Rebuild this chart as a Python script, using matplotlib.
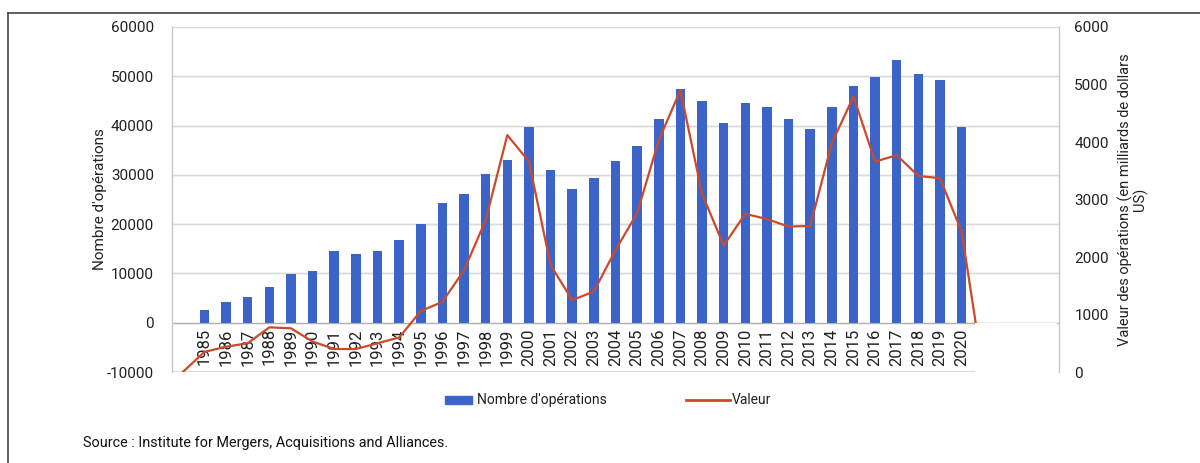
import matplotlib
matplotlib.use("Agg")
import matplotlib.pyplot as plt
from matplotlib.patches import Rectangle
from matplotlib.lines import Line2D

plt.rcParams['font.family'] = ['Roboto', 'DejaVu Sans']

# number of deals per year
years = list(range(1985, 2021))
operations = [2580, 4130, 5150, 7180, 9900, 10580, 14500, 13970, 14640, 16700,
              20070, 24270, 26030, 30240, 32950, 39730, 30910, 27050, 29350, 32800,
              35860, 41290, 47330, 45020, 40610, 44680, 43860, 41380, 39390, 43730,
              48000, 49890, 53220, 50500, 49280, 39730]

# deal value (bn USD), series padded with a zero at both ends
line_years = list(range(1984, 2022))
valeur = [0, 350, 440, 500, 777, 760, 530, 400, 400, 500, 600,
          1060, 1220, 1770, 2640, 4120, 3660, 1860, 1250, 1400, 2120,
          2760, 4030, 4900, 3100, 2200, 2750, 2660, 2530, 2540, 3980,
          4790, 3660, 3770, 3410, 3370, 2440, 0]

left_ticks = [-10000, 0, 10000, 20000, 30000, 40000, 50000, 60000]
right_ticks = [0, 1000, 2000, 3000, 4000, 5000, 6000]

blue = '#3c64c8'
red = '#cc4a2a'
grid_c = '#dadada'
spine_c = '#c4c4c4'
txt_c = '#222222'

fig = plt.figure(figsize=(12, 4.63), dpi=100)
ax = fig.add_axes([0.1433, 0.1965, 0.7392, 0.7452])
ax2 = ax.twinx()

ax.set_xlim(1983.5, 2024.5)
ax.set_ylim(-10000, 60000)
ax2.set_ylim(0, 6000)

# grids for both scales
for t in left_ticks[1:]:
    ax.axhline(t, color=grid_c, lw=1, zorder=0)
ax.hlines(-10000, 1983.5, 2020.65, color=grid_c, lw=1.5, zorder=0)
for t in right_ticks[1:]:
    ax.axhline(t * 10 - 10000, color=grid_c, lw=1, zorder=0)

ax.bar(years, operations, width=0.44, color=blue, zorder=2)

ax2.plot(line_years, valeur, color=red, lw=1.6, zorder=2)
# hide the tail of the line below the category axis
ax2.add_patch(Rectangle((2020.62, -100), 3.8, 957, facecolor='white',
                        edgecolor='none', zorder=2.2))

ax.set_yticks(left_ticks)
ax.set_yticklabels([str(t) for t in left_ticks])
ax2.set_yticks(right_ticks)
ax2.set_yticklabels([str(t) for t in right_ticks])
ax.tick_params(axis='y', length=0, pad=13, labelsize=11, labelcolor=txt_c)
ax2.tick_params(axis='y', length=0, pad=11, labelsize=11, labelcolor=txt_c)

ax.set_xticks(years)
ax.set_xticklabels([str(y) for y in years])
ax.tick_params(axis='x', length=0, pad=4, labelsize=12, labelcolor=txt_c,
               labelrotation=90)

for a in (ax, ax2):
    a.spines['top'].set_visible(False)
    a.spines['left'].set_color(spine_c)
    a.spines['right'].set_color(spine_c)
ax2.spines['bottom'].set_visible(False)
ax.spines['bottom'].set_position(('data', 0))
ax.spines['bottom'].set_color('#b0b0b0')
ax.spines['bottom'].set_zorder(3)

ax.set_ylabel("Nombre d'opérations", fontsize=11, color=txt_c)
ax.yaxis.set_label_coords(-0.073, 0.5)
ax2.set_ylabel("Valeur des opérations (en milliards de dollars\nUS)",
               fontsize=10.5, color=txt_c, linespacing=1.0)
ax2.yaxis.set_label_coords(1.066, 0.5)

# legend, drawn by hand in pixel positions
W, H = 1200, 463
def fx(px):
    return px / W
def fy(py):
    return 1 - py / H

fig.add_artist(Rectangle((fx(445), fy(404)), 27 / W, 8 / H, color=blue,
                         transform=fig.transFigure))
fig.text(fx(477), fy(400), "Nombre d'opérations", fontsize=10, color=txt_c,
         va='center')
fig.add_artist(Line2D([fx(686), fx(730)], [fy(400), fy(400)], color=red, lw=2))
fig.text(fx(732), fy(400), 'Valeur', fontsize=10, color=txt_c, va='center')

fig.text(fx(83), fy(443), 'Source : Institute for Mergers, Acquisitions and Alliances.',
         fontsize=10.4, color='#111111', va='center')

# frame lines at top and left
fig.add_artist(Line2D([0.007, 1.0], [0.972, 0.972], color='#444444', lw=1.2))
fig.add_artist(Line2D([0.007, 0.007], [0.0, 0.972], color='#444444', lw=1.2))

fig.savefig('out.png', dpi=100)
